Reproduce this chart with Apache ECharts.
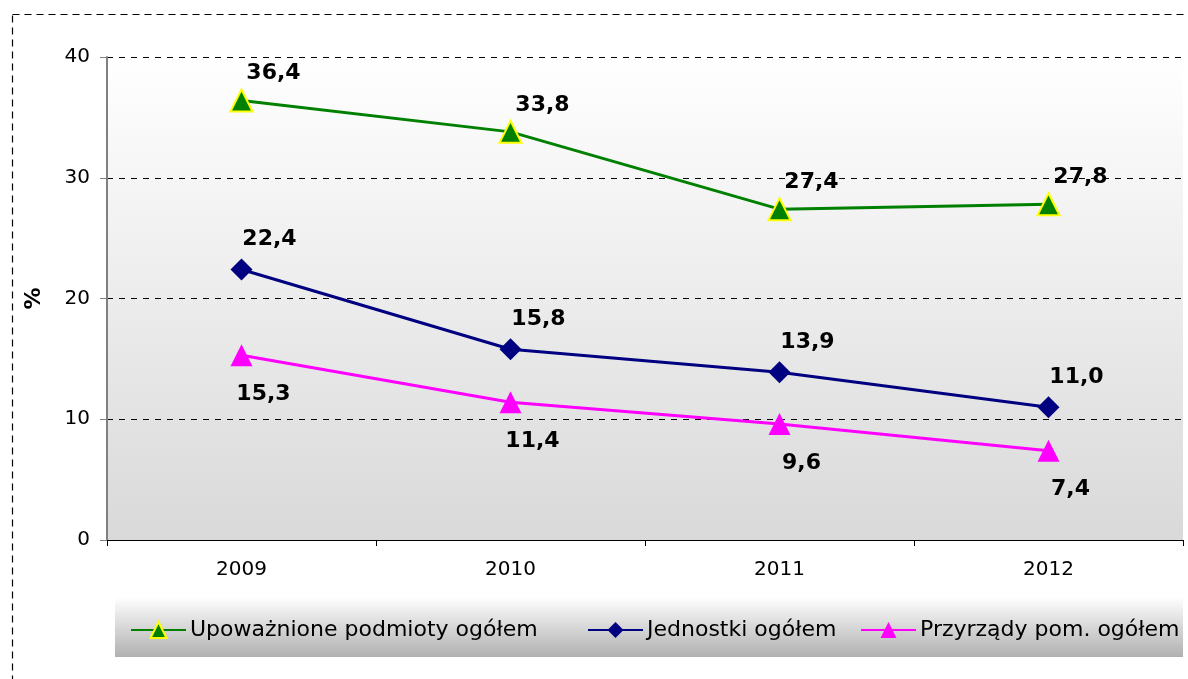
<!DOCTYPE html>
<html>
<head>
<meta charset="utf-8">
<script src="https://cdn.jsdelivr.net/npm/echarts@6/dist/echarts.min.js"></script>
<style>
  html, body { margin: 0; padding: 0; background: #fff; }
  #chart { width: 1188px; height: 679px; }
</style>
</head>
<body>
<div id="chart"></div>
<script>
var years = ['2009', '2010', '2011', '2012'];
var podmioty = [36.4, 33.8, 27.4, 27.8];
var jednostki = [22.4, 15.8, 13.9, 11.0];
var przyrzady = [15.3, 11.4, 9.6, 7.4];
var names = ['Upoważnione podmioty ogółem', 'Jednostki ogółem', 'Przyrządy pom. ogółem'];

var font = '"DejaVu Sans", sans-serif';

function fmt(p) {
    return p.value.toFixed(1).replace('.', ',');
}

var labelStyle = {
    show: true,
    formatter: fmt,
    fontFamily: font,
    fontSize: 22,
    fontWeight: 'bold',
    color: '#000'
};

// one legend per item so each can sit where the original puts it
function legendAt(name, left) {
    return {
        left: left,
        top: 614,
        itemWidth: 55,
        itemHeight: 20,
        itemGap: 4,
        textStyle: { fontFamily: font, fontSize: 22, color: '#000', padding: [0, 0, 0, -1] },
        data: [name]
    };
}

var option = {
    animation: false,
    graphic: [
        {
            type: 'rect',
            shape: { x: 12.5, y: 14.5, width: 1200, height: 700 },
            style: { fill: 'none', stroke: '#000', lineWidth: 1.2, lineDash: [7, 5] },
            silent: true,
            z: -10
        },
        {
            type: 'rect',
            shape: { x: 115, y: 597, width: 1068, height: 60 },
            style: {
                fill: {
                    type: 'linear', x: 0, y: 0, x2: 0, y2: 1,
                    colorStops: [
                        { offset: 0, color: '#ffffff' },
                        { offset: 1, color: '#b0b0b0' }
                    ]
                }
            },
            silent: true,
            z: -5
        }
    ],
    grid: {
        left: 107,
        right: 5,
        top: 57,
        bottom: 139,
        show: true,
        borderWidth: 0,
        backgroundColor: {
            type: 'linear', x: 0, y: 0, x2: 0, y2: 1,
            colorStops: [
                { offset: 0, color: '#ffffff' },
                { offset: 1, color: '#d9d9d9' }
            ]
        }
    },
    legend: [
        legendAt(names[0], 125),
        legendAt(names[1], 582),
        legendAt(names[2], 855)
    ],
    xAxis: {
        type: 'category',
        data: years,
        boundaryGap: true,
        axisLine: { lineStyle: { color: '#000', width: 1 } },
        axisTick: { show: true, interval: 0, length: 6, lineStyle: { color: '#000' } },
        axisLabel: { fontFamily: font, fontSize: 20, color: '#000', margin: 20 }
    },
    yAxis: {
        type: 'value',
        min: 0,
        max: 40,
        interval: 10,
        name: '%',
        nameLocation: 'middle',
        nameGap: 62,
        nameRotate: 90,
        nameTextStyle: { fontFamily: font, fontSize: 22, fontWeight: 'bold', color: '#000' },
        axisLine: { show: true, lineStyle: { color: '#808080', width: 2 } },
        axisTick: { show: true, length: 7, lineStyle: { color: '#808080' } },
        axisLabel: { fontFamily: font, fontSize: 20, color: '#000', margin: 17 },
        splitLine: { show: true, lineStyle: { color: '#000', type: [6, 6], width: 1 } }
    },
    series: [
        {
            name: names[0],
            type: 'line',
            data: podmioty,
            symbol: 'triangle',
            symbolSize: 22,
            lineStyle: { color: '#008000', width: 3 },
            itemStyle: { color: '#008000', borderColor: '#ffff00', borderWidth: 2 },
            label: Object.assign({}, labelStyle, { position: 'top', offset: [32, 1] }),
            z: 3
        },
        {
            name: names[1],
            type: 'line',
            data: jednostki,
            symbol: 'diamond',
            symbolSize: 22,
            lineStyle: { color: '#000080', width: 3 },
            itemStyle: { color: '#000080' },
            label: Object.assign({}, labelStyle, { position: 'top', offset: [28, -3] }),
            z: 2
        },
        {
            name: names[2],
            type: 'line',
            data: przyrzady,
            symbol: 'triangle',
            symbolSize: 22,
            lineStyle: { color: '#ff00ff', width: 3 },
            itemStyle: { color: '#ff00ff' },
            label: Object.assign({}, labelStyle, { position: 'bottom', offset: [22, 12] }),
            z: 1
        }
    ]
};

var myChart = echarts.init(document.getElementById('chart'));
myChart.setOption(option);
</script>
</body>
</html>
